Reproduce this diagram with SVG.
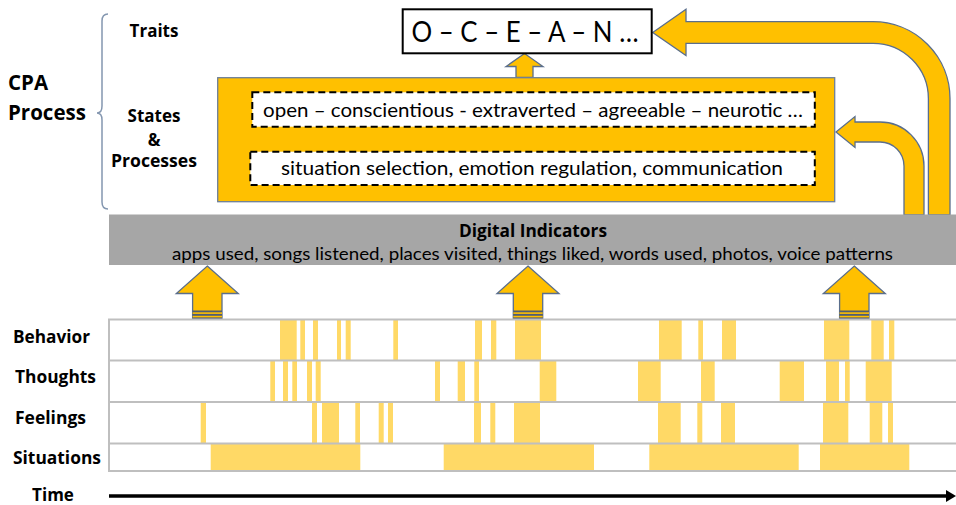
<svg xmlns="http://www.w3.org/2000/svg" width="956" height="505" viewBox="0 0 956 505">
<style>
text{font-family:Lato,"Noto Sans","Liberation Sans",sans-serif;fill:#000}
.b{font-family:"Open Sans","Noto Sans","Liberation Sans",sans-serif;font-weight:bold}
.arr{fill:#FFC000;stroke:#5A6E8C;stroke-width:1.3;stroke-linejoin:miter}
.s{fill:#FFD966}
.row{stroke:#BFBFBF;stroke-width:2;fill:none}
.dash{fill:#fff;stroke:#000;stroke-width:2;stroke-dasharray:7 4}
</style>
<defs>
<g id="uparrow">
<path class="arr" d="M0,266 L31,293.5 L14.7,293.5 L14.7,321 L-14.7,321 L-14.7,293.5 L-31,293.5 Z"/>
<rect x="-14.7" y="310.5" width="29.4" height="10.5" fill="#4F5D73"/>
<rect x="-14.7" y="312.3" width="29.4" height="1.6" fill="#FFC000"/>
<rect x="-14.7" y="315.8" width="29.4" height="1.6" fill="#FFC000"/>
</g>
</defs>
<rect width="956" height="505" fill="#fff"/>

<g id="cpa-label">
<path d="M108,14 Q102,14 102,21 L102,106 Q102,113 97,113 Q102,113 102,120 L102,202 Q102,209 108,209" fill="none" stroke="#8497B0" stroke-width="1.5"/>
<text class="b" x="8" y="90" font-size="20.5">CPA</text>
<text class="b" x="8" y="120" font-size="20.5">Process</text>
</g>
<g id="level-labels">
<text class="b" x="154" y="37" font-size="17" text-anchor="middle">Traits</text>
<text class="b" x="154" y="122" font-size="17" text-anchor="middle">States</text>
<text class="b" x="154" y="146" font-size="17" text-anchor="middle">&amp;</text>
<text class="b" x="154" y="167" font-size="17" text-anchor="middle" textLength="86" lengthAdjust="spacingAndGlyphs">Processes</text>
</g>

<g id="connectors">
<path class="arr" d="M652.7,32.5 L686,9.3 L686,21.7 L873,21.7 A77,77 0 0 1 950,98.7 L950,215 L928.4,215 L928.4,98.7 A55.4,55.4 0 0 0 873,43.3 L686,43.3 L686,55.5 Z"/>
<path class="arr" d="M836,132 L855,116.5 L855,122 L880,122 A44,44 0 0 1 924,166 L924,215 L904,215 L904,166 A24,24 0 0 0 880,142 L855,142 L855,147.5 Z"/>
<path class="arr" d="M524.5,53.5 L543,66.5 L533,66.5 L533,77.5 L516,77.5 L516,66.5 L506,66.5 Z"/>
<use href="#uparrow" x="207.3"/>
<use href="#uparrow" x="528"/>
<use href="#uparrow" x="854.3"/>
<line x1="109" y1="496" x2="947" y2="496" stroke="#000" stroke-width="3.5"/>
<path d="M956,496 L946,490 L946,502 Z" fill="#000"/>
</g>

<g id="ocean">
<rect x="402.7" y="9.3" width="249" height="44" fill="#fff" stroke="#000" stroke-width="2"/>
<text x="525" y="42" font-size="28" text-anchor="middle" textLength="227" lengthAdjust="spacingAndGlyphs">O – C – E – A – N …</text>
</g>

<g id="states-processes">
<rect x="217.7" y="77.7" width="617" height="124" fill="#FFC000" stroke="#6D7F99" stroke-width="1.3"/>
<rect class="dash" x="252.3" y="92.3" width="562.5" height="34.4"/>
<text x="533" y="117" font-size="20" text-anchor="middle" textLength="540" lengthAdjust="spacingAndGlyphs">open – conscientious -  extraverted – agreeable – neurotic …</text>
<rect class="dash" x="250.3" y="151.7" width="564.5" height="33.3"/>
<text x="532" y="175" font-size="20" text-anchor="middle" textLength="502" lengthAdjust="spacingAndGlyphs">situation selection, emotion regulation, communication</text>
</g>

<g id="digital-indicators">
<rect x="109" y="214.5" width="850" height="50.5" fill="#A6A6A6"/>
<text class="b" x="533" y="237" font-size="17" text-anchor="middle" textLength="148" lengthAdjust="spacingAndGlyphs">Digital Indicators</text>
<text x="532.5" y="260" font-size="18" text-anchor="middle" textLength="721" lengthAdjust="spacingAndGlyphs">apps used, songs listened, places visited, things liked, words used, photos, voice patterns</text>
</g>

<g id="timeline">
<rect x="109" y="319.5" width="850" height="151.5" fill="#fff"/>
<g id="behavior">
<rect class="s" x="280" y="320" width="16.7" height="41"/>
<rect class="s" x="300.3" y="320" width="4.7" height="41"/>
<rect class="s" x="313" y="320" width="5" height="41"/>
<rect class="s" x="337" y="320" width="4" height="41"/>
<rect class="s" x="345.7" y="320" width="5" height="41"/>
<rect class="s" x="393.3" y="320" width="4.7" height="41"/>
<rect class="s" x="475" y="320" width="7" height="41"/>
<rect class="s" x="491" y="320" width="5.3" height="41"/>
<rect class="s" x="515" y="320" width="26" height="41"/>
<rect class="s" x="659" y="320" width="22.7" height="41"/>
<rect class="s" x="698.3" y="320" width="4.7" height="41"/>
<rect class="s" x="722" y="320" width="14" height="41"/>
<rect class="s" x="824" y="320" width="25.3" height="41"/>
<rect class="s" x="871.3" y="320" width="12.4" height="41"/>
<rect class="s" x="889" y="320" width="5.3" height="41"/>
</g>
<g id="thoughts">
<rect class="s" x="270.3" y="361" width="4.7" height="41"/>
<rect class="s" x="283" y="361" width="5" height="41"/>
<rect class="s" x="292.3" y="361" width="4.7" height="41"/>
<rect class="s" x="307" y="361" width="5" height="41"/>
<rect class="s" x="315.7" y="361" width="5" height="41"/>
<rect class="s" x="435" y="361" width="5" height="41"/>
<rect class="s" x="457.7" y="361" width="7.3" height="41"/>
<rect class="s" x="474.3" y="361" width="4.7" height="41"/>
<rect class="s" x="539.7" y="361" width="16.6" height="41"/>
<rect class="s" x="638" y="361" width="22.7" height="41"/>
<rect class="s" x="701" y="361" width="13.7" height="41"/>
<rect class="s" x="779.7" y="361" width="24.3" height="41"/>
<rect class="s" x="826" y="361" width="13" height="41"/>
<rect class="s" x="845" y="361" width="4.7" height="41"/>
<rect class="s" x="865.7" y="361" width="26" height="41"/>
</g>
<g id="feelings">
<rect class="s" x="200.7" y="402" width="5.3" height="42"/>
<rect class="s" x="312" y="402" width="5" height="42"/>
<rect class="s" x="322" y="402" width="17" height="42"/>
<rect class="s" x="355.3" y="402" width="4.7" height="42"/>
<rect class="s" x="378.7" y="402" width="5" height="42"/>
<rect class="s" x="388" y="402" width="5" height="42"/>
<rect class="s" x="474" y="402" width="7" height="42"/>
<rect class="s" x="490.3" y="402" width="5" height="42"/>
<rect class="s" x="514" y="402" width="26" height="42"/>
<rect class="s" x="658" y="402" width="22.7" height="42"/>
<rect class="s" x="697.3" y="402" width="5" height="42"/>
<rect class="s" x="721" y="402" width="14" height="42"/>
<rect class="s" x="823" y="402" width="25.3" height="42"/>
<rect class="s" x="869.7" y="402" width="12.6" height="42"/>
<rect class="s" x="888" y="402" width="5" height="42"/>
</g>
<g id="situations">
<rect class="s" x="210.7" y="444" width="149.6" height="27"/>
<rect class="s" x="443.7" y="444" width="150.3" height="27"/>
<rect class="s" x="649.3" y="444" width="149.4" height="27"/>
<rect class="s" x="820" y="444" width="89.3" height="27"/>
</g>
<path class="row" d="M960,319.5 H109 V471 H960 M109,360.5 H960 M109,402 H960 M109,443.5 H960"/>
</g>

<g id="row-labels">
<text class="b" x="13" y="343" font-size="17" textLength="77" lengthAdjust="spacingAndGlyphs">Behavior</text>
<text class="b" x="15" y="383" font-size="17" textLength="81" lengthAdjust="spacingAndGlyphs">Thoughts</text>
<text class="b" x="15" y="424" font-size="17" textLength="71" lengthAdjust="spacingAndGlyphs">Feelings</text>
<text class="b" x="13" y="464" font-size="17" textLength="88" lengthAdjust="spacingAndGlyphs">Situations</text>
<text class="b" x="53" y="501" font-size="17" text-anchor="middle">Time</text>
</g>
</svg>
